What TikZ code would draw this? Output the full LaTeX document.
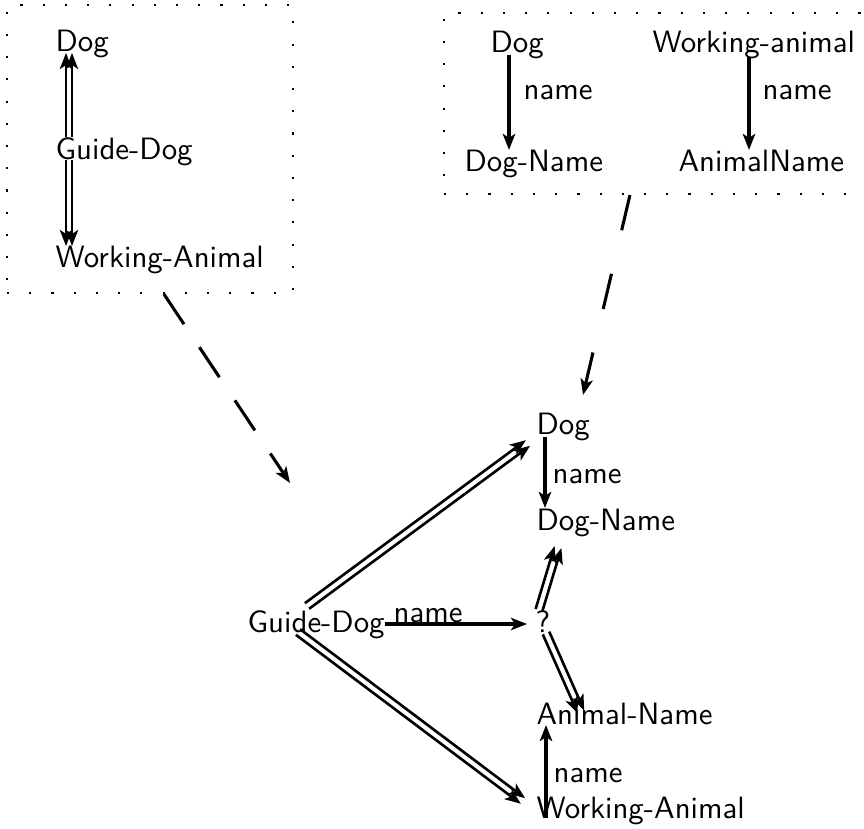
\documentclass[tikz,border=0pt]{standalone}
\usetikzlibrary{arrows.meta,calc,fit}
\begin{document}
\begin{tikzpicture}[x=0.324pt, y=-0.324pt,
	lbl/.style={anchor=base west, inner sep=0pt, font=\sffamily},
	arr/.style={line width=1pt, -{Stealth[length=5.2pt,width=4pt,inset=1.3pt]}},
	twin/.style={arr, line width=0.85pt},
	dotbox/.style={draw, inner sep=0pt, line width=0.7pt, dash pattern=on 0.7pt off 6.5pt},
	fold/.style={arr, line width=1pt}]
	\useasboundingbox (0,0) rectangle (864,828);
	\node[dotbox, fit={(7,5) (293,293)}] (boxL) {};
	\node[dotbox, fit={(444,13) (884,194)}] (boxR) {};
	\node[lbl] (dogL) at (55,52) {Dog};
	\node[lbl] (guideL) at (55,160) {Guide-Dog};
	\node[lbl] (workL) at (55,268) {Working-Animal};
	\node[lbl] (dogR) at (490,53) {Dog};
	\node[lbl] (workR) at (652,53) {Working-animal};
	\node[lbl] (nameRa) at (523,100) {name};
	\node[lbl] (nameRb) at (762,100) {name};
	\node[lbl] (dognameR) at (464,172) {Dog-Name};
	\node[lbl] (animnameR) at (678,172) {AnimalName};
	\node[lbl] (dogB) at (536,435) {Dog};
	\node[lbl] (nameBa) at (552,483) {name};
	\node[lbl] (dognameB) at (536,530) {Dog-Name};
	\node[lbl] (guideB) at (247,632) {Guide-Dog};
	\node[lbl] (nameBb) at (393,622) {name};
	\node[lbl] (q) at (535,632) {?};
	\node[lbl] (animnameB) at (536,724) {Animal-Name};
	\node[lbl] (nameBc) at (553,782) {name};
	\node[lbl] (workB) at (536,818) {Working-Animal};
	\coordinate (leftend) at (290,483);
	\coordinate (rightend) at (583,395);
	\foreach \s in {1,-1} {
		\draw[twin] ($(guideL.base west)+(14+\s*3,-23)$) -- ($(dogL.base west)+(14+\s*3,1)$);
		\draw[twin] ($(guideL.base west)+(14+\s*3,0)$) -- ($(workL.base west)+(14+\s*3,-22)$);
		\draw[twin] ($(guideB.base west)+(60+\s*2.1,-26+\s*2.8)$) -- ($(dogB.base west)+(-8+\s*2.1,8+\s*2.8)$);
		\draw[twin] ($(guideB.base west)+(51+\s*2.1,\s*-2.8)$) -- ($(workB.base west)+(-13+\s*2.1,-17-\s*2.8)$);
		\draw[twin] ($(q.base west)+(4+\s*3.4,-22+\s*1)$) -- ($(dognameB.base west)+(22+\s*3.4,17+\s*1)$);
		\draw[twin] ($(q.base west)+(11+\s*3.2,1-\s*1.4)$) -- ($(animnameB.base west)+(45+\s*3.2,-12-\s*1.4)$);
	}
	\draw[arr] ($(dogR.base west)+(19,2)$) -- ($(dognameR.base west)+(45,-22)$);
	\draw[arr] ($(workR.base west)+(97,4)$) -- ($(animnameR.base west)+(71,-22)$);
	\draw[arr] ($(dogB.base west)+(9,2)$) -- ($(dognameB.base west)+(9,-22)$);
	\draw[arr] ($(workB.base west)+(10,0)$) -- ($(animnameB.base west)+(10,1)$);
	\draw[arr] ($(guideB.base east)+(0,-8)$) -- ($(q.base west)+(-8,-8)$);
	\draw[fold, dash pattern=on 11.7pt off 9pt] ($(boxL.south west)+(158,0)$) -- (leftend);
	\draw[fold, dash pattern=on 11.7pt off 14.5pt] ($(boxR.south west)+(187,0)$) -- (rightend);
\end{tikzpicture}
\end{document}
